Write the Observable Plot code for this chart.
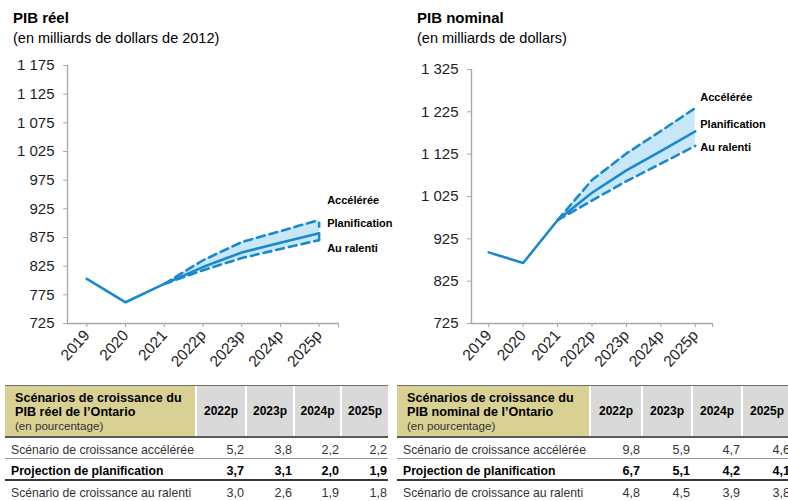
<!DOCTYPE html>
<html><head><meta charset="utf-8">
<script src="https://cdn.jsdelivr.net/npm/d3@7"></script>
<script src="https://cdn.jsdelivr.net/npm/@observablehq/plot@0.6"></script>
<style>
body{margin:0;width:788px;height:501px;overflow:hidden;position:relative;background:#fff;font-family:"Liberation Sans",Arial,sans-serif;color:#000;}
.title{position:absolute;top:10px;font-weight:bold;font-size:15px;line-height:15px;white-space:nowrap;}
.sub{position:absolute;top:31px;font-size:14.5px;line-height:14.5px;white-space:nowrap;}
.chart{position:absolute;top:50px;width:394px;height:330px;}
.chart svg{overflow:visible;}
table{position:absolute;top:385px;border-collapse:separate;border-spacing:0;table-layout:fixed;border-top:1px solid #6e6e6e;}
td{padding:0;white-space:nowrap;overflow:visible;}
tr.head td{height:50px;border-bottom:2px solid #5a5a5a;}
td.khaki{background:#d8d193;vertical-align:top;padding-left:10px;padding-right:0;}
td.khaki .l1{font-weight:bold;font-size:12.6px;line-height:14px;padding-top:5px;}
td.khaki .l2{font-weight:bold;font-size:12.6px;line-height:14px;}
td.khaki .l3{font-size:11.6px;line-height:13px;color:#333;}
td.yr{background:linear-gradient(to right,#fff 2px,#d9d9d9 2px);text-align:center;vertical-align:middle;font-weight:bold;font-size:12px;padding-left:2px;}
tr.body td{height:19px;vertical-align:bottom;padding-bottom:1px;font-size:12.2px;line-height:14px;color:#333;}
tr.body td.v{text-align:right;padding-right:1px;font-size:12.6px;}
tr.r1 td{border-bottom:1px solid #9a9a9a;}
tr.r2 td{border-bottom:2px solid #3a3a3a;color:#000;font-weight:bold;}
tr.r3 td{border-bottom:2px solid #8a8a8a;}
tr.body td.lab{padding-left:6px;}
</style></head>
<body>
<div class="title" style="left:13px">PIB réel</div>
<div class="sub" style="left:13px">(en milliards de dollars de 2012)</div>
<div class="title" style="left:417px">PIB nominal</div>
<div class="sub" style="left:417px">(en milliards de dollars)</div>
<div id="c1" class="chart" style="left:0px"></div>
<div id="c2" class="chart" style="left:394px"></div>
<div id="t1"></div>
<div id="t2"></div>
<script>
// ---- Chart data ----
const years = ["2019", "2020", "2021", "2022p", "2023p", "2024p", "2025p"];
const realPlan = [803, 762, 794, 823.4, 848.9, 865.9, 882.3];
const realFast = [null, null, 794, 835.3, 867.0, 886.1, 905.6];
const realSlow = [null, null, 794, 817.8, 839.1, 855.0, 870.4];
const nominalPlan = [893, 868, 969, 1033.9, 1086.6, 1132.3, 1178.7];
const nominalFast = [null, null, 969, 1064.0, 1126.7, 1179.7, 1234.0];
const nominalSlow = [null, null, 969, 1015.5, 1061.2, 1102.6, 1144.5];
const realTicks = [725, 775, 825, 875, 925, 975, 1025, 1075, 1125, 1175];
const nominalTicks = [725, 825, 925, 1025, 1125, 1225, 1325];
const scenarioLabels = ["Accélérée", "Planification", "Au ralenti"];

// ---- Table data ----
const tableYears = ["2022p", "2023p", "2024p", "2025p"];
const rowLabels = ["Scénario de croissance accélérée", "Projection de planification", "Scénario de croissance au ralenti"];
const realTitle = ["Scénarios de croissance du", "PIB réel de l’Ontario", "(en pourcentage)"];
const nominalTitle = ["Scénarios de croissance du", "PIB nominal de l’Ontario", "(en pourcentage)"];
const realGrowthFast = [5.2, 3.8, 2.2, 2.2];
const realGrowthPlan = [3.7, 3.1, 2.0, 1.9];
const realGrowthSlow = [3.0, 2.6, 1.9, 1.8];
const nominalGrowthFast = [9.8, 5.9, 4.7, 4.6];
const nominalGrowthPlan = [6.7, 5.1, 4.2, 4.1];
const nominalGrowthSlow = [4.8, 4.5, 3.9, 3.8];

const BLUE = "#1a88cc";
const FILL = "#c8e8fa";
const AXIS = "#a6a6a6";
const fmtTick = d => d >= 1000 ? `${Math.floor(d / 1000)} ${String(d % 1000).padStart(3, "0")}` : `${d}`;

function makeChart({plan, fast, slow, ticks, marginLeft, marginRight, marginTop, dx, dys, closeRight}) {
  const rows = years.map((year, i) => ({i, year, plan: plan[i], fast: fast[i], slow: slow[i]}));
  const proj = rows.filter(d => d.fast != null);
  const last = rows[rows.length - 1];
  const y0 = ticks[0], y1 = ticks[ticks.length - 1];
  const marks = [
    Plot.areaY(proj, {x: "i", y1: "slow", y2: "fast", fill: FILL}),
    Plot.ruleY([y0], {x1: -0.5, x2: years.length - 0.5, stroke: AXIS, strokeWidth: 1.3}),
    Plot.ruleX([-0.5], {y1: y0, y2: y1, stroke: AXIS, strokeWidth: 1.3}),
    Plot.axisY({ticks, tickSize: 4, tickPadding: 9, tickFormat: fmtTick, stroke: AXIS, fill: "#1e1e1e", fontSize: 15, label: null}),
    Plot.axisX({ticks: [...d3.range(years.length), years.length - 0.5], tickSize: 4, tickPadding: 5, tickRotate: -48,
      tickFormat: d => years[d] ?? "", stroke: AXIS, fill: "#1e1e1e", fontSize: 15.5, label: null}),
    Plot.line(proj, {x: "i", y: "fast", stroke: BLUE, strokeWidth: 2.6, strokeDasharray: "8,5"}),
    Plot.line(proj, {x: "i", y: "slow", stroke: BLUE, strokeWidth: 2.6, strokeDasharray: "8,5"}),
    Plot.line(rows, {x: "i", y: "plan", stroke: BLUE, strokeWidth: 2.6}),
    Plot.text([last], {x: "i", y: "fast", text: () => scenarioLabels[0], dx, dy: dys[0], textAnchor: "start", fontWeight: "bold", fontSize: 11, fill: "#000"}),
    Plot.text([last], {x: "i", y: "plan", text: () => scenarioLabels[1], dx, dy: dys[1], textAnchor: "start", fontWeight: "bold", fontSize: 11, fill: "#000"}),
    Plot.text([last], {x: "i", y: "slow", text: () => scenarioLabels[2], dx, dy: dys[2], textAnchor: "start", fontWeight: "bold", fontSize: 11, fill: "#000"})
  ];
  if (closeRight) marks.push(Plot.ruleX([last], {x: "i", y1: "slow", y2: "fast", stroke: BLUE, strokeWidth: 2.5, strokeDasharray: "6,6"}));
  return Plot.plot({
    width: 394, height: 330, marginLeft, marginRight, marginTop, marginBottom: 57,
    style: {fontFamily: "'Liberation Sans', Arial, sans-serif", fontSize: "15px", background: "transparent", overflow: "visible"},
    x: {type: "linear", domain: [-0.5, years.length - 0.5], axis: null},
    y: {domain: [y0, y1], axis: null},
    marks
  });
}

document.getElementById("c1").appendChild(makeChart({
  plan: realPlan, fast: realFast, slow: realSlow, ticks: realTicks,
  marginLeft: 67, marginRight: 56, marginTop: 15, dx: 8, dys: [-19, -10, 8], closeRight: true
}));
document.getElementById("c2").appendChild(makeChart({
  plan: nominalPlan, fast: nominalFast, slow: nominalSlow, ticks: nominalTicks,
  marginLeft: 77, marginRight: 76, marginTop: 19, dx: 5, dys: [-11, -7, 2], closeRight: false
}));

const fmtPct = v => d3.format(".1f")(v).replace(".", ",");

function makeTable(id, left, labelW, colWs, title, series) {
  const t = d3.select("#" + id).append("table").style("left", left + "px")
    .style("width", (labelW + d3.sum(colWs)) + "px");
  const cg = t.append("colgroup");
  cg.append("col").style("width", labelW + "px");
  colWs.forEach(w => cg.append("col").style("width", w + "px"));
  const head = t.append("tr").attr("class", "head");
  const k = head.append("td").attr("class", "khaki");
  k.append("div").attr("class", "l1").text(title[0]);
  k.append("div").attr("class", "l2").text(title[1]);
  k.append("div").attr("class", "l3").text(title[2]);
  tableYears.forEach(y => head.append("td").attr("class", "yr").text(y));
  series.forEach((vals, r) => {
    const tr = t.append("tr").attr("class", "body r" + (r + 1));
    tr.append("td").attr("class", "lab").text(rowLabels[r]);
    vals.forEach(v => tr.append("td").attr("class", "v").text(fmtPct(v)));
  });
}
makeTable("t1", 5, 190, [50, 48, 47, 48], realTitle, [realGrowthFast, realGrowthPlan, realGrowthSlow]);
makeTable("t2", 397, 192, [52, 50, 50, 50], nominalTitle, [nominalGrowthFast, nominalGrowthPlan, nominalGrowthSlow]);
</script>
</body></html>
